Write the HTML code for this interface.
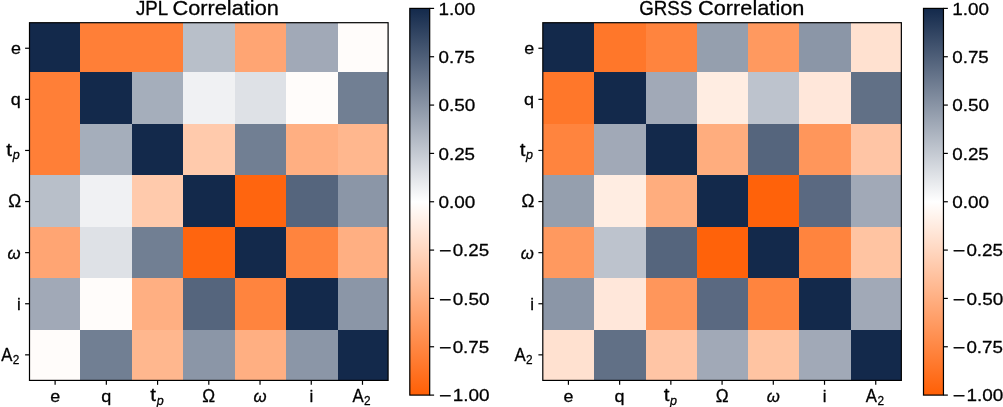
<!DOCTYPE html>
<html><head><meta charset="utf-8"><title>Correlation</title>
<style>html,body{margin:0;padding:0;background:#fff;}svg{display:block;}text{font-family:"Liberation Sans",sans-serif;fill:#000;}</style></head><body>
<svg width="1003" height="407" viewBox="0 0 1003 407">
<rect width="1003" height="407" fill="#fff"/>
<defs><linearGradient id="cb" x1="0" y1="0" x2="0" y2="1"><stop offset="0" stop-color="#13294b"/><stop offset="0.5" stop-color="#ffffff"/><stop offset="1" stop-color="#ff5f05"/></linearGradient></defs>
<g shape-rendering="crispEdges">
<rect x="29.5" y="22.7" width="50.50" height="49.30" fill="#13294b"/>
<rect x="80" y="22.7" width="52.00" height="49.30" fill="#ff7f37"/>
<rect x="132" y="22.7" width="51.00" height="49.30" fill="#ff7f37"/>
<rect x="183" y="22.7" width="52.00" height="49.30" fill="#b8bfc9"/>
<rect x="235" y="22.7" width="51.00" height="49.30" fill="#ffa573"/>
<rect x="286" y="22.7" width="52.00" height="49.30" fill="#a1a9b7"/>
<rect x="338" y="22.7" width="50.10" height="49.30" fill="#fffcfa"/>
<rect x="29.5" y="72" width="50.50" height="52.00" fill="#ff7f37"/>
<rect x="80" y="72" width="52.00" height="52.00" fill="#13294b"/>
<rect x="132" y="72" width="51.00" height="52.00" fill="#a5aebb"/>
<rect x="183" y="72" width="52.00" height="52.00" fill="#f0f1f3"/>
<rect x="235" y="72" width="51.00" height="52.00" fill="#dee1e6"/>
<rect x="286" y="72" width="52.00" height="52.00" fill="#fffcfa"/>
<rect x="338" y="72" width="50.10" height="52.00" fill="#717f93"/>
<rect x="29.5" y="124" width="50.50" height="51.00" fill="#ff7f37"/>
<rect x="80" y="124" width="52.00" height="51.00" fill="#a5aebb"/>
<rect x="132" y="124" width="51.00" height="51.00" fill="#13294b"/>
<rect x="183" y="124" width="52.00" height="51.00" fill="#ffcaac"/>
<rect x="235" y="124" width="51.00" height="51.00" fill="#717f93"/>
<rect x="286" y="124" width="52.00" height="51.00" fill="#ffaf82"/>
<rect x="338" y="124" width="50.10" height="51.00" fill="#ffb78e"/>
<rect x="29.5" y="175" width="50.50" height="52.00" fill="#b8bfc9"/>
<rect x="80" y="175" width="52.00" height="52.00" fill="#f0f1f3"/>
<rect x="132" y="175" width="51.00" height="52.00" fill="#ffcaac"/>
<rect x="183" y="175" width="52.00" height="52.00" fill="#13294b"/>
<rect x="235" y="175" width="51.00" height="52.00" fill="#ff650f"/>
<rect x="286" y="175" width="52.00" height="52.00" fill="#55657d"/>
<rect x="338" y="175" width="50.10" height="52.00" fill="#8b96a7"/>
<rect x="29.5" y="227" width="50.50" height="51.00" fill="#ffa573"/>
<rect x="80" y="227" width="52.00" height="51.00" fill="#dee1e6"/>
<rect x="132" y="227" width="51.00" height="51.00" fill="#717f93"/>
<rect x="183" y="227" width="52.00" height="51.00" fill="#ff650f"/>
<rect x="235" y="227" width="51.00" height="51.00" fill="#13294b"/>
<rect x="286" y="227" width="52.00" height="51.00" fill="#ff843e"/>
<rect x="338" y="227" width="50.10" height="51.00" fill="#ffaf82"/>
<rect x="29.5" y="278" width="50.50" height="52.00" fill="#a1a9b7"/>
<rect x="80" y="278" width="52.00" height="52.00" fill="#fffcfa"/>
<rect x="132" y="278" width="51.00" height="52.00" fill="#ffaf82"/>
<rect x="183" y="278" width="52.00" height="52.00" fill="#55657d"/>
<rect x="235" y="278" width="51.00" height="52.00" fill="#ff843e"/>
<rect x="286" y="278" width="52.00" height="52.00" fill="#13294b"/>
<rect x="338" y="278" width="50.10" height="52.00" fill="#8b96a7"/>
<rect x="29.5" y="330" width="50.50" height="50.40" fill="#fffcfa"/>
<rect x="80" y="330" width="52.00" height="50.40" fill="#717f93"/>
<rect x="132" y="330" width="51.00" height="50.40" fill="#ffb78e"/>
<rect x="183" y="330" width="52.00" height="50.40" fill="#8b96a7"/>
<rect x="235" y="330" width="51.00" height="50.40" fill="#ffaf82"/>
<rect x="286" y="330" width="52.00" height="50.40" fill="#8b96a7"/>
<rect x="338" y="330" width="50.10" height="50.40" fill="#13294b"/>
</g>
<rect x="29.5" y="22.7" width="358.60" height="357.70" fill="none" stroke="#000" stroke-width="1.2"/>
<line x1="55.11" y1="380.4" x2="55.11" y2="384.80" stroke="#000" stroke-width="1.2"/>
<line x1="29.5" y1="48.25" x2="25.10" y2="48.25" stroke="#000" stroke-width="1.2"/>
<line x1="106.34" y1="380.4" x2="106.34" y2="384.80" stroke="#000" stroke-width="1.2"/>
<line x1="29.5" y1="99.35" x2="25.10" y2="99.35" stroke="#000" stroke-width="1.2"/>
<line x1="157.57" y1="380.4" x2="157.57" y2="384.80" stroke="#000" stroke-width="1.2"/>
<line x1="29.5" y1="150.45" x2="25.10" y2="150.45" stroke="#000" stroke-width="1.2"/>
<line x1="208.80" y1="380.4" x2="208.80" y2="384.80" stroke="#000" stroke-width="1.2"/>
<line x1="29.5" y1="201.55" x2="25.10" y2="201.55" stroke="#000" stroke-width="1.2"/>
<line x1="260.03" y1="380.4" x2="260.03" y2="384.80" stroke="#000" stroke-width="1.2"/>
<line x1="29.5" y1="252.65" x2="25.10" y2="252.65" stroke="#000" stroke-width="1.2"/>
<line x1="311.26" y1="380.4" x2="311.26" y2="384.80" stroke="#000" stroke-width="1.2"/>
<line x1="29.5" y1="303.75" x2="25.10" y2="303.75" stroke="#000" stroke-width="1.2"/>
<line x1="362.49" y1="380.4" x2="362.49" y2="384.80" stroke="#000" stroke-width="1.2"/>
<line x1="29.5" y1="354.85" x2="25.10" y2="354.85" stroke="#000" stroke-width="1.2"/>
<rect x="409.8" y="8.4" width="19.90" height="386.70" fill="url(#cb)" stroke="#000" stroke-width="1.2"/>
<line x1="429.7" y1="8.40" x2="434.10" y2="8.40" stroke="#000" stroke-width="1.2"/>
<line x1="429.7" y1="56.74" x2="434.10" y2="56.74" stroke="#000" stroke-width="1.2"/>
<line x1="429.7" y1="105.08" x2="434.10" y2="105.08" stroke="#000" stroke-width="1.2"/>
<line x1="429.7" y1="153.41" x2="434.10" y2="153.41" stroke="#000" stroke-width="1.2"/>
<line x1="429.7" y1="201.75" x2="434.10" y2="201.75" stroke="#000" stroke-width="1.2"/>
<line x1="429.7" y1="250.09" x2="434.10" y2="250.09" stroke="#000" stroke-width="1.2"/>
<line x1="429.7" y1="298.43" x2="434.10" y2="298.43" stroke="#000" stroke-width="1.2"/>
<line x1="429.7" y1="346.76" x2="434.10" y2="346.76" stroke="#000" stroke-width="1.2"/>
<line x1="429.7" y1="395.10" x2="434.10" y2="395.10" stroke="#000" stroke-width="1.2"/>
<g shape-rendering="crispEdges">
<rect x="542.8" y="22.7" width="51.20" height="49.30" fill="#13294b"/>
<rect x="594" y="22.7" width="52.00" height="49.30" fill="#ff772a"/>
<rect x="646" y="22.7" width="51.00" height="49.30" fill="#ff843e"/>
<rect x="697" y="22.7" width="51.00" height="49.30" fill="#959fae"/>
<rect x="748" y="22.7" width="51.00" height="49.30" fill="#ff995f"/>
<rect x="799" y="22.7" width="52.00" height="49.30" fill="#8b96a7"/>
<rect x="851" y="22.7" width="50.35" height="49.30" fill="#ffe1d0"/>
<rect x="542.8" y="72" width="51.20" height="52.00" fill="#ff772a"/>
<rect x="594" y="72" width="52.00" height="52.00" fill="#13294b"/>
<rect x="646" y="72" width="51.00" height="52.00" fill="#a1a9b7"/>
<rect x="697" y="72" width="51.00" height="52.00" fill="#ffede2"/>
<rect x="748" y="72" width="51.00" height="52.00" fill="#bdc3cd"/>
<rect x="799" y="72" width="52.00" height="52.00" fill="#ffe7da"/>
<rect x="851" y="72" width="50.35" height="52.00" fill="#617086"/>
<rect x="542.8" y="124" width="51.20" height="51.00" fill="#ff843e"/>
<rect x="594" y="124" width="52.00" height="51.00" fill="#a1a9b7"/>
<rect x="646" y="124" width="51.00" height="51.00" fill="#13294b"/>
<rect x="697" y="124" width="51.00" height="51.00" fill="#ffad7e"/>
<rect x="748" y="124" width="51.00" height="51.00" fill="#55657d"/>
<rect x="799" y="124" width="52.00" height="51.00" fill="#ff965b"/>
<rect x="851" y="124" width="50.35" height="51.00" fill="#ffc5a5"/>
<rect x="542.8" y="175" width="51.20" height="52.00" fill="#959fae"/>
<rect x="594" y="175" width="52.00" height="52.00" fill="#ffede2"/>
<rect x="646" y="175" width="51.00" height="52.00" fill="#ffad7e"/>
<rect x="697" y="175" width="51.00" height="52.00" fill="#13294b"/>
<rect x="748" y="175" width="51.00" height="52.00" fill="#ff620a"/>
<rect x="799" y="175" width="52.00" height="52.00" fill="#5a6981"/>
<rect x="851" y="175" width="50.35" height="52.00" fill="#a1a9b7"/>
<rect x="542.8" y="227" width="51.20" height="51.00" fill="#ff995f"/>
<rect x="594" y="227" width="52.00" height="51.00" fill="#bdc3cd"/>
<rect x="646" y="227" width="51.00" height="51.00" fill="#55657d"/>
<rect x="697" y="227" width="51.00" height="51.00" fill="#ff620a"/>
<rect x="748" y="227" width="51.00" height="51.00" fill="#13294b"/>
<rect x="799" y="227" width="52.00" height="51.00" fill="#ff843e"/>
<rect x="851" y="227" width="50.35" height="51.00" fill="#ffc4a2"/>
<rect x="542.8" y="278" width="51.20" height="52.00" fill="#8b96a7"/>
<rect x="594" y="278" width="52.00" height="52.00" fill="#ffe7da"/>
<rect x="646" y="278" width="51.00" height="52.00" fill="#ff965b"/>
<rect x="697" y="278" width="51.00" height="52.00" fill="#5a6981"/>
<rect x="748" y="278" width="51.00" height="52.00" fill="#ff843e"/>
<rect x="799" y="278" width="52.00" height="52.00" fill="#13294b"/>
<rect x="851" y="278" width="50.35" height="52.00" fill="#a1a9b7"/>
<rect x="542.8" y="330" width="51.20" height="50.40" fill="#ffe1d0"/>
<rect x="594" y="330" width="52.00" height="50.40" fill="#617086"/>
<rect x="646" y="330" width="51.00" height="50.40" fill="#ffc5a5"/>
<rect x="697" y="330" width="51.00" height="50.40" fill="#a1a9b7"/>
<rect x="748" y="330" width="51.00" height="50.40" fill="#ffc4a2"/>
<rect x="799" y="330" width="52.00" height="50.40" fill="#a1a9b7"/>
<rect x="851" y="330" width="50.35" height="50.40" fill="#13294b"/>
</g>
<rect x="542.8" y="22.7" width="358.55" height="357.70" fill="none" stroke="#000" stroke-width="1.2"/>
<line x1="568.41" y1="380.4" x2="568.41" y2="384.80" stroke="#000" stroke-width="1.2"/>
<line x1="542.8" y1="48.25" x2="538.40" y2="48.25" stroke="#000" stroke-width="1.2"/>
<line x1="619.63" y1="380.4" x2="619.63" y2="384.80" stroke="#000" stroke-width="1.2"/>
<line x1="542.8" y1="99.35" x2="538.40" y2="99.35" stroke="#000" stroke-width="1.2"/>
<line x1="670.85" y1="380.4" x2="670.85" y2="384.80" stroke="#000" stroke-width="1.2"/>
<line x1="542.8" y1="150.45" x2="538.40" y2="150.45" stroke="#000" stroke-width="1.2"/>
<line x1="722.08" y1="380.4" x2="722.08" y2="384.80" stroke="#000" stroke-width="1.2"/>
<line x1="542.8" y1="201.55" x2="538.40" y2="201.55" stroke="#000" stroke-width="1.2"/>
<line x1="773.30" y1="380.4" x2="773.30" y2="384.80" stroke="#000" stroke-width="1.2"/>
<line x1="542.8" y1="252.65" x2="538.40" y2="252.65" stroke="#000" stroke-width="1.2"/>
<line x1="824.52" y1="380.4" x2="824.52" y2="384.80" stroke="#000" stroke-width="1.2"/>
<line x1="542.8" y1="303.75" x2="538.40" y2="303.75" stroke="#000" stroke-width="1.2"/>
<line x1="875.74" y1="380.4" x2="875.74" y2="384.80" stroke="#000" stroke-width="1.2"/>
<line x1="542.8" y1="354.85" x2="538.40" y2="354.85" stroke="#000" stroke-width="1.2"/>
<rect x="923.5" y="8.4" width="19.95" height="386.70" fill="url(#cb)" stroke="#000" stroke-width="1.2"/>
<line x1="943.45" y1="8.40" x2="947.85" y2="8.40" stroke="#000" stroke-width="1.2"/>
<line x1="943.45" y1="56.74" x2="947.85" y2="56.74" stroke="#000" stroke-width="1.2"/>
<line x1="943.45" y1="105.08" x2="947.85" y2="105.08" stroke="#000" stroke-width="1.2"/>
<line x1="943.45" y1="153.41" x2="947.85" y2="153.41" stroke="#000" stroke-width="1.2"/>
<line x1="943.45" y1="201.75" x2="947.85" y2="201.75" stroke="#000" stroke-width="1.2"/>
<line x1="943.45" y1="250.09" x2="947.85" y2="250.09" stroke="#000" stroke-width="1.2"/>
<line x1="943.45" y1="298.43" x2="947.85" y2="298.43" stroke="#000" stroke-width="1.2"/>
<line x1="943.45" y1="346.76" x2="947.85" y2="346.76" stroke="#000" stroke-width="1.2"/>
<line x1="943.45" y1="395.10" x2="947.85" y2="395.10" stroke="#000" stroke-width="1.2"/>
<g opacity="0.999" stroke="#000" stroke-width="0.3" stroke-linejoin="round">
<text transform="matrix(1.7930 0 0 1.7399 50.16 401.67)" font-size="10" vector-effect="non-scaling-stroke">e</text>
<text transform="matrix(1.7930 0 0 1.7399 11.04 54.22)" font-size="10" vector-effect="non-scaling-stroke">e</text>
<text transform="matrix(1.8022 0 0 1.7100 101.23 401.50)" font-size="10" vector-effect="non-scaling-stroke">q</text>
<text transform="matrix(1.8022 0 0 1.7100 10.72 105.15)" font-size="10" vector-effect="non-scaling-stroke">q</text>
<text transform="matrix(2.0664 0 0 1.7814 150.36 401.46)" font-size="10" vector-effect="non-scaling-stroke">t</text>
<text transform="matrix(1.2530 0 0 1.1970 156.82 404.53)" font-size="10" font-style="italic" vector-effect="non-scaling-stroke">p</text>
<text transform="matrix(2.0664 0 0 1.7814 6.34 156.21)" font-size="10" vector-effect="non-scaling-stroke">t</text>
<text transform="matrix(1.2530 0 0 1.1970 12.80 159.28)" font-size="10" font-style="italic" vector-effect="non-scaling-stroke">p</text>
<text transform="matrix(1.7249 0 0 1.7540 202.36 401.60)" font-size="10" vector-effect="non-scaling-stroke">Ω</text>
<text transform="matrix(1.7249 0 0 1.7540 8.31 207.45)" font-size="10" vector-effect="non-scaling-stroke">Ω</text>
<text transform="matrix(1.6794 0 0 1.6984 253.45 401.67)" font-size="10" font-style="italic" vector-effect="non-scaling-stroke">ω</text>
<text transform="matrix(1.6794 0 0 1.6984 7.57 258.62)" font-size="10" font-style="italic" vector-effect="non-scaling-stroke">ω</text>
<text transform="matrix(1.6969 0 0 1.7405 309.38 401.60)" font-size="10" vector-effect="non-scaling-stroke">i</text>
<text transform="matrix(1.6969 0 0 1.7405 16.92 309.65)" font-size="10" vector-effect="non-scaling-stroke">i</text>
<text transform="matrix(1.6722 0 0 1.7590 352.61 401.60)" font-size="10" vector-effect="non-scaling-stroke">A</text>
<text transform="matrix(1.1807 0 0 1.2351 364.12 404.60)" font-size="10" vector-effect="non-scaling-stroke">2</text>
<text transform="matrix(1.6722 0 0 1.7590 1.25 360.75)" font-size="10" vector-effect="non-scaling-stroke">A</text>
<text transform="matrix(1.1807 0 0 1.2351 12.76 363.75)" font-size="10" vector-effect="non-scaling-stroke">2</text>
<text transform="matrix(2.1762 0 0 2.0344 172.48 14.85)" font-size="10" vector-effect="non-scaling-stroke">Correlation</text>
<text transform="matrix(1.8717 0 0 2.0344 135.92 14.85)" font-size="10" vector-effect="non-scaling-stroke">JPL</text>
<text transform="matrix(1.8923 0 0 1.6986 438.52 14.66)" font-size="10" vector-effect="non-scaling-stroke">1.00</text>
<text transform="matrix(1.8785 0 0 1.6986 438.48 63.00)" font-size="10" vector-effect="non-scaling-stroke">0.75</text>
<text transform="matrix(1.8945 0 0 1.6986 438.47 111.33)" font-size="10" vector-effect="non-scaling-stroke">0.50</text>
<text transform="matrix(1.8785 0 0 1.6986 438.48 159.67)" font-size="10" vector-effect="non-scaling-stroke">0.25</text>
<text transform="matrix(1.8945 0 0 1.6986 438.47 208.01)" font-size="10" vector-effect="non-scaling-stroke">0.00</text>
<text transform="matrix(2.1476 0 0 1.8514 438.90 257.46)" font-size="10" vector-effect="non-scaling-stroke">−</text>
<text transform="matrix(1.8785 0 0 1.6986 452.64 256.35)" font-size="10" vector-effect="non-scaling-stroke">0.25</text>
<text transform="matrix(2.1476 0 0 1.8514 438.90 305.80)" font-size="10" vector-effect="non-scaling-stroke">−</text>
<text transform="matrix(1.8945 0 0 1.6986 452.63 304.68)" font-size="10" vector-effect="non-scaling-stroke">0.50</text>
<text transform="matrix(2.1476 0 0 1.8514 438.90 354.13)" font-size="10" vector-effect="non-scaling-stroke">−</text>
<text transform="matrix(1.8785 0 0 1.6986 452.64 353.02)" font-size="10" vector-effect="non-scaling-stroke">0.75</text>
<text transform="matrix(2.1476 0 0 1.8514 438.90 402.47)" font-size="10" vector-effect="non-scaling-stroke">−</text>
<text transform="matrix(1.8923 0 0 1.6986 452.68 401.36)" font-size="10" vector-effect="non-scaling-stroke">1.00</text>
<text transform="matrix(1.7930 0 0 1.7399 563.46 401.67)" font-size="10" vector-effect="non-scaling-stroke">e</text>
<text transform="matrix(1.7930 0 0 1.7399 524.34 54.22)" font-size="10" vector-effect="non-scaling-stroke">e</text>
<text transform="matrix(1.8022 0 0 1.7100 614.52 401.50)" font-size="10" vector-effect="non-scaling-stroke">q</text>
<text transform="matrix(1.8022 0 0 1.7100 524.02 105.15)" font-size="10" vector-effect="non-scaling-stroke">q</text>
<text transform="matrix(2.0664 0 0 1.7814 663.64 401.46)" font-size="10" vector-effect="non-scaling-stroke">t</text>
<text transform="matrix(1.2530 0 0 1.1970 670.10 404.53)" font-size="10" font-style="italic" vector-effect="non-scaling-stroke">p</text>
<text transform="matrix(2.0664 0 0 1.7814 519.64 156.21)" font-size="10" vector-effect="non-scaling-stroke">t</text>
<text transform="matrix(1.2530 0 0 1.1970 526.10 159.28)" font-size="10" font-style="italic" vector-effect="non-scaling-stroke">p</text>
<text transform="matrix(1.7249 0 0 1.7540 715.63 401.60)" font-size="10" vector-effect="non-scaling-stroke">Ω</text>
<text transform="matrix(1.7249 0 0 1.7540 521.61 207.45)" font-size="10" vector-effect="non-scaling-stroke">Ω</text>
<text transform="matrix(1.6794 0 0 1.6984 766.72 401.67)" font-size="10" font-style="italic" vector-effect="non-scaling-stroke">ω</text>
<text transform="matrix(1.6794 0 0 1.6984 520.87 258.62)" font-size="10" font-style="italic" vector-effect="non-scaling-stroke">ω</text>
<text transform="matrix(1.6969 0 0 1.7405 822.64 401.60)" font-size="10" vector-effect="non-scaling-stroke">i</text>
<text transform="matrix(1.6969 0 0 1.7405 530.22 309.65)" font-size="10" vector-effect="non-scaling-stroke">i</text>
<text transform="matrix(1.6722 0 0 1.7590 865.86 401.60)" font-size="10" vector-effect="non-scaling-stroke">A</text>
<text transform="matrix(1.1807 0 0 1.2351 877.38 404.60)" font-size="10" vector-effect="non-scaling-stroke">2</text>
<text transform="matrix(1.6722 0 0 1.7590 514.55 360.75)" font-size="10" vector-effect="non-scaling-stroke">A</text>
<text transform="matrix(1.1807 0 0 1.2351 526.06 363.75)" font-size="10" vector-effect="non-scaling-stroke">2</text>
<text transform="matrix(2.1762 0 0 2.0344 698.08 14.85)" font-size="10" vector-effect="non-scaling-stroke">Correlation</text>
<text transform="matrix(1.8717 0 0 2.0344 639.15 14.85)" font-size="10" vector-effect="non-scaling-stroke">GRSS</text>
<text transform="matrix(1.8923 0 0 1.6986 952.27 14.66)" font-size="10" vector-effect="non-scaling-stroke">1.00</text>
<text transform="matrix(1.8785 0 0 1.6986 952.23 63.00)" font-size="10" vector-effect="non-scaling-stroke">0.75</text>
<text transform="matrix(1.8945 0 0 1.6986 952.22 111.33)" font-size="10" vector-effect="non-scaling-stroke">0.50</text>
<text transform="matrix(1.8785 0 0 1.6986 952.23 159.67)" font-size="10" vector-effect="non-scaling-stroke">0.25</text>
<text transform="matrix(1.8945 0 0 1.6986 952.22 208.01)" font-size="10" vector-effect="non-scaling-stroke">0.00</text>
<text transform="matrix(2.1476 0 0 1.8514 952.65 257.46)" font-size="10" vector-effect="non-scaling-stroke">−</text>
<text transform="matrix(1.8785 0 0 1.6986 966.39 256.35)" font-size="10" vector-effect="non-scaling-stroke">0.25</text>
<text transform="matrix(2.1476 0 0 1.8514 952.65 305.80)" font-size="10" vector-effect="non-scaling-stroke">−</text>
<text transform="matrix(1.8945 0 0 1.6986 966.38 304.68)" font-size="10" vector-effect="non-scaling-stroke">0.50</text>
<text transform="matrix(2.1476 0 0 1.8514 952.65 354.13)" font-size="10" vector-effect="non-scaling-stroke">−</text>
<text transform="matrix(1.8785 0 0 1.6986 966.39 353.02)" font-size="10" vector-effect="non-scaling-stroke">0.75</text>
<text transform="matrix(2.1476 0 0 1.8514 952.65 402.47)" font-size="10" vector-effect="non-scaling-stroke">−</text>
<text transform="matrix(1.8923 0 0 1.6986 966.43 401.36)" font-size="10" vector-effect="non-scaling-stroke">1.00</text>
</g>
</svg></body></html>
